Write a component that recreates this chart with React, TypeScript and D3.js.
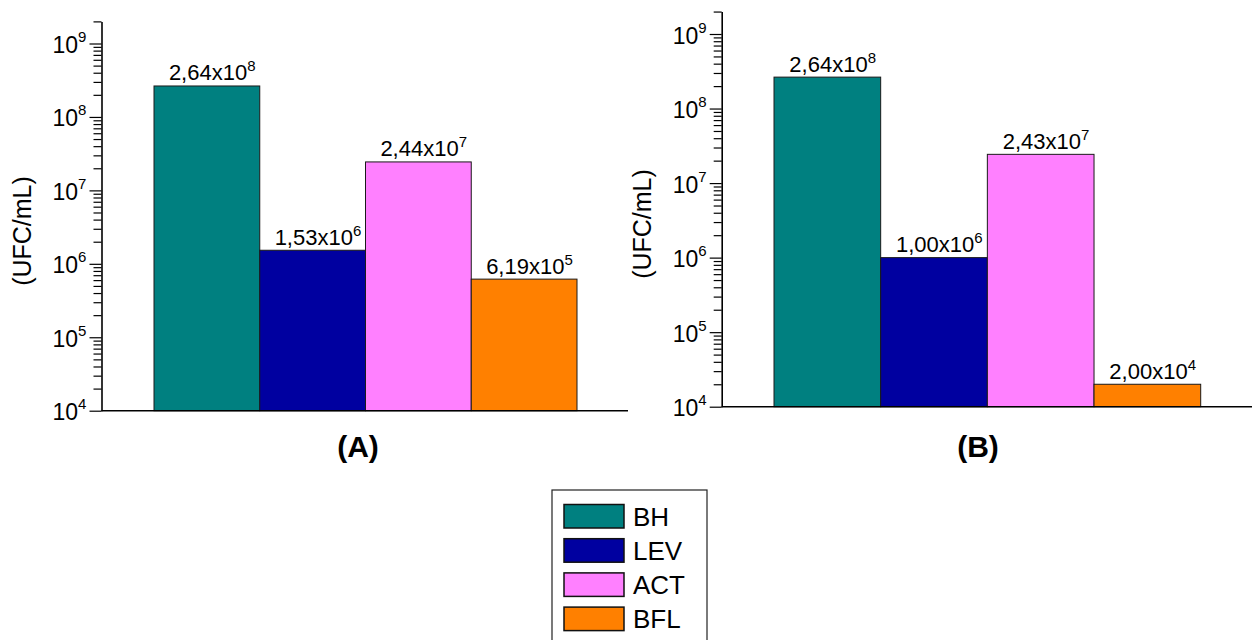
import React, { useEffect, useRef } from 'react';
import * as d3 from 'd3';

// chart data
const categories = ['BH', 'LEV', 'ACT', 'BFL'];
const valuesA = [2.64e8, 1.53e6, 2.44e7, 6.19e5];
const valuesB = [2.64e8, 1.0e6, 2.43e7, 2.0e4];
const colors = ['#008080', '#0000A0', '#FF80FF', '#FF8000'];
const majorTicks = [1e4, 1e5, 1e6, 1e7, 1e8, 1e9];
const panelTitles = ['(A)', '(B)'];
const yTitle = '(UFC/mL)';

const FONT = "'Liberation Sans', Arial, Helvetica, sans-serif";

function splitLabel(v: number) {
  // 2.64e+8 -> ["2,64", "8"]
  const [m, e] = v.toExponential(2).split('e');
  return [m.replace('.', ','), String(+e)];
}

function drawPanel(svg: any, data: number[], title: string, cfg: any) {
  const y = d3.scaleLog()
              .domain([1e4, 1e9])
              .range([cfg.y0, cfg.y9]);

  const x = d3.scaleBand()
              .domain(categories)
              .range([cfg.barL, cfg.barR])
              .padding(0);

  const g = svg.append('g');

  // minor ticks
  const minors: number[] = [];
  for (let k = 4; k <= 9; k++) {
    for (let m = 2; m <= 9; m++) {
      const v = m * Math.pow(10, k);
      if (v <= 2e9) minors.push(v);
    }
  }

  const yAxis = d3.scaleLog().domain([1e4, 2e9]).range([y(1e4), y(2e9)]);

  g.append('g')
   .attr('transform', `translate(${cfg.axisX},0)`)
   .call(d3.axisLeft(yAxis).tickValues(minors).tickSize(8).tickSizeOuter(0).tickFormat(() => ''))
   .call((s: any) => s.selectAll('line').attr('stroke', '#000').attr('stroke-width', 1.2))
   .call((s: any) => s.select('.domain').attr('stroke', '#000').attr('stroke-width', 1.6));

  g.append('g')
   .attr('transform', `translate(${cfg.axisX},0)`)
   .call(d3.axisLeft(yAxis).tickValues(majorTicks).tickSize(12).tickSizeOuter(0).tickFormat(() => ''))
   .call((s: any) => s.selectAll('line').attr('stroke', '#000').attr('stroke-width', 1.2))
   .call((s: any) => s.select('.domain').remove());

  // tick labels 10^n
  const lab = g.append('g')
               .selectAll('text')
               .data(majorTicks)
               .join('text')
               .attr('x', cfg.axisX - 49)
               .attr('y', (d: number) => y(d) + 9.5)
               .attr('font-family', FONT)
               .attr('font-size', 23)
               .attr('fill', '#000');
  lab.append('tspan').text('10');
  lab.append('tspan')
     .attr('font-size', 15)
     .attr('dy', -11)
     .text((d: number) => String(Math.round(Math.log10(d))));

  // bars
  g.append('g')
   .selectAll('rect')
   .data(data)
   .join('rect')
   .attr('x', (d: number, i: number) => x(categories[i]))
   .attr('y', (d: number) => y(d))
   .attr('width', x.bandwidth())
   .attr('height', (d: number) => y(1e4) - y(d))
   .attr('fill', (d: number, i: number) => colors[i])
   .attr('stroke', '#1a1a1a')
   .attr('stroke-width', 1);

  // x axis line
  g.append('line')
   .attr('x1', cfg.axisX)
   .attr('x2', cfg.xEnd)
   .attr('y1', y(1e4))
   .attr('y2', y(1e4))
   .attr('stroke', '#000')
   .attr('stroke-width', 1.6);

  // value labels
  const vl = g.append('g')
              .selectAll('text')
              .data(data)
              .join('text')
              .attr('x', (d: number, i: number) => x(categories[i]) + x.bandwidth() / 2 - 38)
              .attr('y', (d: number) => y(d) - 5.5)
              .attr('font-family', FONT)
              .attr('font-size', 22)
              .attr('fill', '#000');
  vl.append('tspan').text((d: number) => splitLabel(d)[0] + 'x10');
  vl.append('tspan')
    .attr('font-size', 15)
    .attr('dy', -9)
    .text((d: number) => splitLabel(d)[1]);

  // y title
  svg.append('text')
     .attr('transform', `translate(${cfg.titleX},${cfg.titleY}) rotate(-90)`)
     .attr('text-anchor', 'middle')
     .attr('font-family', FONT)
     .attr('font-size', 25)
     .attr('fill', '#000')
     .text(yTitle);

  // panel title
  svg.append('text')
     .attr('x', cfg.panelX)
     .attr('y', 457)
     .attr('text-anchor', 'middle')
     .attr('font-family', FONT)
     .attr('font-weight', 'bold')
     .attr('font-size', 30)
     .attr('fill', '#000')
     .text(title);
}

function drawLegend(svg: any) {
  const leg = svg.append('g');
  leg.append('rect')
     .attr('x', 552)
     .attr('y', 490)
     .attr('width', 155)
     .attr('height', 170)
     .attr('fill', '#fff')
     .attr('stroke', '#222')
     .attr('stroke-width', 1.2);

  const rows = leg.selectAll('g.row')
                  .data(categories)
                  .join('g')
                  .attr('class', 'row')
                  .attr('transform', (d: string, i: number) => `translate(564,${504.5 + i * 34.2})`);
  rows.append('rect')
      .attr('width', 60)
      .attr('height', 23.5)
      .attr('fill', (d: string, i: number) => colors[i])
      .attr('stroke', '#111')
      .attr('stroke-width', 1.5);
  rows.append('text')
      .attr('x', 69)
      .attr('y', 21)
      .attr('font-family', FONT)
      .attr('font-size', 26)
      .attr('fill', '#000')
      .text((d: string) => d);
}

export default function App() {
  const ref = useRef<SVGSVGElement>(null);

  useEffect(() => {
    const svg = d3.select(ref.current);
    svg.selectAll('*').remove();

    drawPanel(svg, valuesA, panelTitles[0], {
      axisX: 101.5, y0: 410.7, y9: 43.5, barL: 154, barR: 577, xEnd: 628,
      titleX: 31, titleY: 231, panelX: 358
    });
    drawPanel(svg, valuesB, panelTitles[1], {
      axisX: 721.7, y0: 406.7, y9: 34, barL: 774, barR: 1200.7, xEnd: 1260,
      titleX: 651, titleY: 224, panelX: 978
    });
    drawLegend(svg);
  }, []);

  return (
    <svg ref={ref} width={1252} height={640}
         style={{ position: 'absolute', left: 0, top: 0, background: '#fff' }} />
  );
}
